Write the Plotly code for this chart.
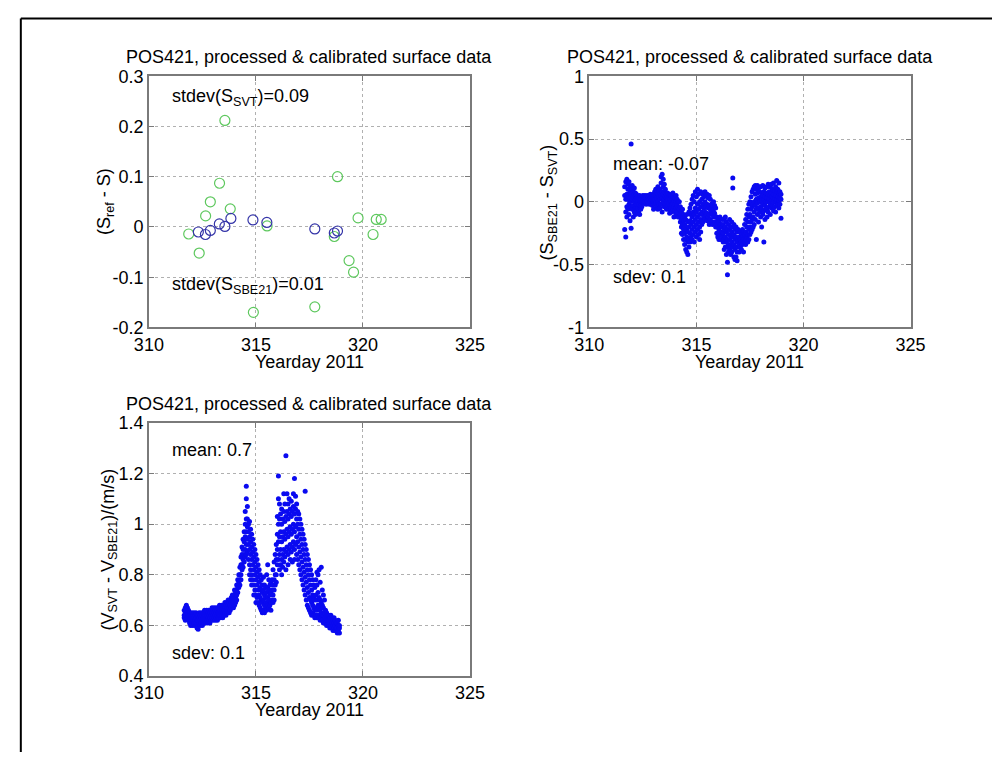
import plotly.graph_objects as go

# ---------------- data ----------------
TITLE = "POS421, processed &amp; calibrated surface data"
x_ticks = [310, 315, 320, 325]

# Panel 1: S_ref - S at reference samples
svt_day = [313.55, 313.30, 312.87, 312.65, 313.80, 311.86, 312.35, 315.52, 314.88,
           317.75, 318.81, 318.66, 319.77, 319.35, 319.56, 320.47, 320.62, 320.85]
svt_val = [0.212, 0.087, 0.050, 0.022, 0.036, -0.014, -0.052, 0.002, -0.170,
           -0.159, 0.100, -0.019, 0.018, -0.067, -0.090, -0.015, 0.015, 0.015]
sbe_day = [312.31, 312.64, 312.87, 313.29, 313.55, 313.83, 314.86, 315.51, 317.75, 318.66, 318.81]
sbe_val = [-0.010, -0.015, -0.007, 0.006, 0.001, 0.017, 0.014, 0.009, -0.004, -0.012, -0.008]
p1_yticks = [-0.2, -0.1, 0, 0.1, 0.2, 0.3]
p1_ytext = ["-0.2", "-0.1", "0", "0.1", "0.2", "0.3"]

# Panel 2: S_SBE21 - S_SVT (day, values observed at that time)
s_diff_cols = [
    (311.65, [0.05, -0.22, 0.12]), (311.70, [-0.28, 0.02, 0.16, -0.08]),
    (311.75, [0.18, 0.06, -0.04, -0.12]), (311.80, [0.10, 0.02, -0.06, 0.14]),
    (311.85, [0.16, 0.04, -0.02, -0.10]), (311.90, [0.08, 0.12, 0.00, -0.15]),
    (311.95, [0.46, 0.06, -0.04, -0.21]), (312.00, [0.10, 0.02, -0.06, 0.13]),
    (312.05, [0.04, 0.08, -0.03, -0.12]), (312.10, [0.06, 0.00, -0.08, 0.11]),
    (312.15, [0.02, 0.07, -0.05, -0.10]), (312.20, [0.03, -0.02, -0.07, 0.06]),
    (312.25, [0.00, -0.05, -0.09, 0.04]), (312.30, [-0.02, 0.03, -0.08]),
    (312.35, [0.01, -0.04, -0.10, 0.05]), (312.40, [0.02, -0.03, -0.06]),
    (312.45, [0.04, 0.00, -0.04]), (312.50, [0.03, 0.01, 0.05]),
    (312.55, [0.02, 0.04, -0.01]), (312.60, [0.03, 0.00, 0.05]),
    (312.65, [0.01, 0.04, -0.02]), (312.70, [0.02, 0.05, 0.00]),
    (312.75, [0.03, -0.01, 0.04]), (312.80, [0.02, 0.05, -0.02]),
    (312.85, [0.00, 0.03, 0.06]), (312.90, [0.02, -0.02, 0.04]),
    (312.95, [0.01, 0.05, -0.03]), (313.00, [0.03, 0.00, 0.06, -0.06]),
    (313.05, [0.02, 0.08, -0.02]), (313.10, [0.05, -0.01, 0.10]),
    (313.15, [0.03, 0.07, -0.04]), (313.20, [0.06, 0.00, 0.12, -0.06]),
    (313.25, [0.04, 0.09, -0.02]), (313.30, [0.02, 0.10, -0.05, 0.06]),
    (313.35, [0.05, 0.15, -0.02, 0.20]), (313.40, [0.03, 0.08, 0.22, -0.08]),
    (313.45, [0.06, 0.12, 0.00, 0.18]), (313.50, [0.02, 0.08, -0.04, 0.14]),
    (313.55, [0.04, -0.02, 0.10]), (313.60, [0.00, 0.06, -0.06, 0.03]),
    (313.65, [0.02, -0.03, 0.07]), (313.70, [-0.01, 0.04, -0.06]),
    (313.75, [0.02, -0.04, 0.06, -0.09]), (313.80, [0.00, 0.05, -0.05]),
    (313.85, [0.03, -0.02, -0.08]), (313.90, [-0.01, 0.04, -0.06, 0.07]),
    (313.95, [0.01, -0.04, -0.12]), (314.00, [-0.02, 0.03, -0.07]),
    (314.05, [0.00, -0.05, -0.10, 0.05]), (314.10, [-0.03, 0.02, -0.08]),
    (314.15, [-0.05, 0.00, -0.12]), (314.20, [-0.06, -0.12, 0.00]),
    (314.25, [-0.10, -0.16, -0.04]), (314.30, [-0.14, -0.20, -0.08, -0.25]),
    (314.35, [-0.18, -0.12, -0.26, -0.06]), (314.40, [-0.22, -0.15, -0.30, -0.10]),
    (314.45, [-0.25, -0.18, -0.34, -0.12]), (314.50, [-0.20, -0.30, -0.38, -0.14]),
    (314.55, [-0.28, -0.22, -0.40, -0.10]), (314.60, [-0.24, -0.32, -0.42, -0.16]),
    (314.65, [-0.20, -0.30, -0.36, -0.08]), (314.70, [-0.15, -0.25, -0.32, -0.05]),
    (314.75, [-0.18, -0.10, -0.28, -0.02]), (314.80, [-0.12, -0.22, -0.30, 0.02]),
    (314.85, [-0.16, -0.08, -0.26, 0.05]), (314.90, [-0.10, -0.20, -0.32, 0.00]),
    (314.95, [-0.14, -0.05, -0.24, 0.08]), (315.00, [-0.08, -0.18, -0.28, 0.04]),
    (315.05, [-0.12, -0.02, -0.22, 0.10]), (315.10, [-0.06, -0.16, -0.26, 0.06]),
    (315.15, [-0.10, 0.00, -0.20, -0.30]), (315.20, [-0.04, -0.14, 0.08, -0.24]),
    (315.25, [-0.08, 0.02, -0.18]), (315.30, [-0.02, -0.10, 0.06, -0.16]),
    (315.35, [-0.05, 0.04, -0.12]), (315.40, [0.00, -0.08, 0.08, -0.14]),
    (315.45, [-0.04, 0.05, -0.10]), (315.50, [-0.02, -0.09, 0.06, -0.15]),
    (315.55, [-0.05, 0.03, -0.12]), (315.60, [-0.03, -0.10, 0.05, -0.18]),
    (315.65, [-0.06, 0.02, -0.14]), (315.70, [-0.08, -0.02, -0.16]),
    (315.75, [-0.10, -0.04, -0.18]), (315.80, [-0.06, -0.12, 0.00]),
    (315.85, [-0.09, -0.16, -0.03]), (315.90, [-0.12, -0.05, -0.20]),
    (315.95, [-0.18, -0.25, -0.12]), (316.00, [-0.20, -0.28, -0.14]),
    (316.05, [-0.22, -0.16, -0.30]), (316.10, [-0.18, -0.26, -0.12]),
    (316.15, [-0.24, -0.18, -0.30]), (316.20, [-0.20, -0.27, -0.14]),
    (316.25, [-0.25, -0.32, -0.18]), (316.30, [-0.22, -0.30, -0.38, -0.14]),
    (316.35, [-0.28, -0.20, -0.36, -0.12]), (316.40, [-0.24, -0.32, -0.42, -0.16]),
    (316.45, [-0.30, -0.22, -0.48, -0.58, -0.36]), (316.50, [-0.26, -0.34, -0.18, -0.40]),
    (316.55, [-0.30, -0.22, -0.38, -0.14]), (316.60, [-0.27, -0.35, -0.20, -0.42]),
    (316.65, [-0.32, -0.24, -0.40, -0.16]), (316.70, [-0.28, 0.19, 0.11, -0.36, -0.20]),
    (316.75, [-0.34, -0.26, -0.44, -0.18]), (316.80, [-0.30, -0.38, -0.22, -0.46]),
    (316.85, [-0.36, -0.28, -0.44, -0.20]), (316.90, [-0.32, -0.40, -0.24, -0.47]),
    (316.95, [-0.30, -0.36, -0.22]), (317.00, [-0.34, -0.28, -0.40]),
    (317.05, [-0.30, -0.36, -0.24]), (317.10, [-0.32, -0.26, -0.38]),
    (317.15, [-0.28, -0.34, -0.22]), (317.20, [-0.30, -0.24, -0.40]),
    (317.25, [-0.26, -0.32, -0.18]), (317.30, [-0.24, -0.30, -0.14, -0.34]),
    (317.35, [-0.20, -0.28, -0.10]), (317.40, [-0.16, -0.26, -0.06, -0.32]),
    (317.45, [-0.12, -0.22, -0.02, -0.30]), (317.50, [-0.10, -0.20, 0.00, -0.26]),
    (317.55, [-0.06, -0.16, 0.04, -0.24]), (317.60, [-0.04, -0.14, 0.08, -0.22]),
    (317.65, [-0.02, -0.12, 0.10, -0.20]), (317.70, [0.00, -0.08, 0.12, -0.18]),
    (317.75, [-0.03, 0.06, -0.14, 0.13]), (317.80, [0.02, -0.06, 0.10, -0.30]),
    (317.85, [-0.01, 0.07, -0.10, 0.13]), (317.90, [0.03, -0.05, 0.11, -0.16]),
    (317.95, [0.00, 0.08, -0.08]), (318.00, [0.04, -0.04, 0.12, -0.12]),
    (318.05, [0.01, 0.07, -0.06, -0.20]), (318.10, [0.05, -0.02, 0.13, -0.10]),
    (318.15, [0.02, 0.08, -0.07, -0.32]), (318.20, [0.04, -0.03, 0.11, -0.14]),
    (318.25, [0.00, 0.07, -0.06]), (318.30, [0.03, -0.05, 0.12, -0.12]),
    (318.35, [0.06, 0.00, 0.14, -0.08]), (318.40, [0.02, 0.08, -0.04]),
    (318.45, [0.05, -0.02, 0.12, -0.10]), (318.50, [0.01, 0.07, -0.05, 0.14]),
    (318.55, [0.04, -0.03, 0.10]), (318.60, [0.00, 0.06, -0.07, 0.15]),
    (318.65, [0.03, 0.09, -0.04]), (318.70, [0.05, 0.00, 0.12, -0.08]),
    (318.75, [0.02, 0.08, -0.03, 0.17]), (318.80, [0.04, -0.02, 0.10]),
    (318.85, [0.01, 0.07, -0.05, 0.15]), (318.90, [0.03, 0.08, -0.02]),
    (318.95, [0.02, -0.13, 0.06]),
]
p2_yticks = [-1, -0.5, 0, 0.5, 1]
p2_ytext = ["-1", "-0.5", "0", "0.5", "1"]

# Panel 3: V_SVT - V_SBE21 (m/s)
v_diff_cols = [
    (311.65, [0.64, 0.66, 0.63]), (311.70, [0.65, 0.67, 0.62]), (311.75, [0.66, 0.64, 0.68]),
    (311.80, [0.63, 0.65, 0.67]), (311.85, [0.62, 0.64, 0.66]), (311.90, [0.61, 0.63, 0.65]),
    (311.95, [0.62, 0.64, 0.60]), (312.00, [0.61, 0.63, 0.65]), (312.05, [0.62, 0.60, 0.64]),
    (312.10, [0.61, 0.63, 0.65]), (312.15, [0.62, 0.60, 0.64]), (312.20, [0.61, 0.63, 0.65]),
    (312.25, [0.59, 0.62, 0.64]), (312.30, [0.60, 0.62, 0.64, 0.585]), (312.35, [0.61, 0.63, 0.65]),
    (312.40, [0.60, 0.62, 0.64]), (312.45, [0.61, 0.63, 0.65]), (312.50, [0.62, 0.64, 0.60]),
    (312.55, [0.61, 0.63, 0.65]), (312.60, [0.62, 0.64, 0.66]), (312.65, [0.61, 0.63, 0.65]),
    (312.70, [0.62, 0.64, 0.66]), (312.75, [0.63, 0.61, 0.65]), (312.80, [0.62, 0.64, 0.66]),
    (312.85, [0.63, 0.65, 0.61]), (312.90, [0.62, 0.64, 0.66]), (312.95, [0.63, 0.65, 0.67]),
    (313.00, [0.62, 0.64, 0.66]), (313.05, [0.63, 0.65, 0.67]), (313.10, [0.64, 0.62, 0.66]),
    (313.15, [0.63, 0.65, 0.67]), (313.20, [0.64, 0.66, 0.62]), (313.25, [0.63, 0.65, 0.67]),
    (313.30, [0.64, 0.66, 0.68]), (313.35, [0.65, 0.63, 0.67]), (313.40, [0.64, 0.66, 0.68]),
    (313.45, [0.65, 0.67, 0.63]), (313.50, [0.66, 0.64, 0.68]), (313.55, [0.65, 0.67, 0.69]),
    (313.60, [0.66, 0.68, 0.64]), (313.65, [0.67, 0.65, 0.69]), (313.70, [0.66, 0.68, 0.70]),
    (313.75, [0.67, 0.69, 0.65]), (313.80, [0.68, 0.66, 0.70]), (313.85, [0.67, 0.69, 0.71]),
    (313.90, [0.68, 0.70, 0.72]), (313.95, [0.69, 0.71, 0.67]), (314.00, [0.70, 0.72, 0.68, 0.74]),
    (314.05, [0.71, 0.73, 0.69]), (314.10, [0.72, 0.74, 0.70, 0.76]), (314.15, [0.73, 0.75, 0.78]),
    (314.20, [0.75, 0.77, 0.80]), (314.25, [0.78, 0.80, 0.76, 0.83]), (314.30, [0.80, 0.84, 0.78, 0.87]),
    (314.35, [0.84, 0.88, 0.82, 0.91]), (314.40, [0.86, 0.90, 0.94, 0.83]),
    (314.45, [0.88, 0.93, 0.97, 0.85]), (314.50, [0.90, 0.95, 1.00, 0.87, 1.05]),
    (314.55, [0.92, 0.97, 1.02, 0.88, 1.15, 1.10]), (314.60, [0.89, 0.94, 0.99, 1.02, 1.07]),
    (314.65, [0.86, 0.92, 0.97, 1.00]), (314.70, [0.84, 0.90, 0.95, 1.01, 0.80]),
    (314.75, [0.82, 0.88, 0.93, 0.98, 0.78]), (314.80, [0.80, 0.86, 0.91, 0.96, 0.76]),
    (314.85, [0.78, 0.84, 0.89, 0.94]), (314.90, [0.76, 0.82, 0.87, 0.92, 0.72]),
    (314.95, [0.74, 0.80, 0.85, 0.90]), (315.00, [0.72, 0.78, 0.83, 0.88, 0.69]),
    (315.05, [0.71, 0.76, 0.81, 0.86]), (315.10, [0.69, 0.74, 0.79, 0.84]),
    (315.15, [0.68, 0.72, 0.77, 0.82]), (315.20, [0.67, 0.71, 0.75, 0.80]),
    (315.25, [0.66, 0.70, 0.74, 0.78]), (315.30, [0.65, 0.69, 0.73, 0.76]),
    (315.35, [0.66, 0.70, 0.74, 0.79]), (315.40, [0.65, 0.68, 0.72, 0.76]),
    (315.45, [0.67, 0.71, 0.75]), (315.50, [0.66, 0.69, 0.73, 0.80]),
    (315.55, [0.68, 0.71, 0.75, 0.84]), (315.60, [0.67, 0.70, 0.74, 0.78]),
    (315.65, [0.68, 0.72, 0.76]), (315.70, [0.69, 0.73, 0.77, 0.66]),
    (315.75, [0.70, 0.74, 0.78]), (315.80, [0.72, 0.76, 0.82, 0.69]),
    (315.85, [0.74, 0.78, 0.85, 0.70]), (315.90, [0.76, 0.80, 0.88]),
    (315.95, [0.80, 0.86, 0.92, 0.77]), (316.00, [0.84, 0.90, 0.96, 1.03]),
    (316.05, [0.86, 0.93, 1.00, 1.10, 1.19]), (316.10, [0.88, 0.95, 1.02, 1.08, 0.82]),
    (316.15, [0.90, 0.97, 1.04, 0.84]), (316.20, [0.86, 0.93, 1.00, 1.06, 0.80]),
    (316.25, [0.88, 0.95, 1.02, 0.83]), (316.30, [0.90, 0.97, 1.05, 1.12, 0.85]),
    (316.35, [0.87, 0.94, 1.01, 1.08]), (316.40, [0.89, 0.96, 1.03, 1.27, 0.82]),
    (316.45, [0.91, 0.98, 1.05, 1.12]), (316.50, [0.88, 0.95, 1.02, 1.08, 0.84]),
    (316.55, [0.90, 0.97, 1.04, 1.10]), (316.60, [0.92, 0.99, 1.06, 0.86]),
    (316.65, [0.89, 0.96, 1.03, 1.09]), (316.70, [0.91, 0.98, 1.05, 0.85]),
    (316.75, [0.93, 1.00, 1.07, 1.12]), (316.80, [0.90, 0.97, 1.04, 1.18, 0.86]),
    (316.85, [0.92, 0.99, 1.06, 1.11]), (316.90, [0.88, 0.95, 1.02, 1.08]),
    (316.95, [0.86, 0.93, 1.00, 1.05]), (317.00, [0.84, 0.91, 0.98, 1.04]),
    (317.05, [0.82, 0.89, 0.96, 1.02]), (317.10, [0.80, 0.87, 0.94, 1.00]),
    (317.15, [0.78, 0.85, 0.92, 0.98]), (317.20, [0.76, 0.83, 0.90, 0.96]),
    (317.25, [0.74, 0.81, 0.88, 0.94]), (317.30, [0.72, 0.79, 0.86, 1.13, 0.92]),
    (317.35, [0.70, 0.77, 0.84, 0.90]), (317.40, [0.68, 0.75, 0.82, 0.88]),
    (317.45, [0.67, 0.73, 0.80, 0.86]), (317.50, [0.66, 0.71, 0.78, 0.84]),
    (317.55, [0.65, 0.70, 0.76, 0.82]), (317.60, [0.64, 0.69, 0.74, 0.80]),
    (317.65, [0.65, 0.68, 0.72, 0.78]), (317.70, [0.64, 0.67, 0.71, 0.76]),
    (317.75, [0.63, 0.66, 0.70, 0.75]), (317.80, [0.64, 0.67, 0.72, 0.78]),
    (317.85, [0.63, 0.66, 0.70, 0.76, 0.81]), (317.90, [0.64, 0.68, 0.73, 0.80]),
    (317.95, [0.63, 0.67, 0.71, 0.82]), (318.00, [0.62, 0.66, 0.70, 0.77]),
    (318.05, [0.63, 0.65, 0.69, 0.83]), (318.10, [0.62, 0.64, 0.68, 0.74]),
    (318.15, [0.61, 0.64, 0.67, 0.72]), (318.20, [0.62, 0.65, 0.70]),
    (318.25, [0.61, 0.63, 0.66]), (318.30, [0.60, 0.63, 0.65]),
    (318.35, [0.61, 0.62, 0.64]), (318.40, [0.60, 0.62, 0.64]),
    (318.45, [0.59, 0.61, 0.63]), (318.50, [0.60, 0.62, 0.64]),
    (318.55, [0.59, 0.61, 0.63]), (318.60, [0.58, 0.60, 0.62]),
    (318.65, [0.59, 0.61, 0.63]), (318.70, [0.58, 0.60, 0.62]),
    (318.75, [0.58, 0.59, 0.61]), (318.80, [0.57, 0.59, 0.61]),
    (318.85, [0.58, 0.60, 0.62]), (318.90, [0.57, 0.59, 0.60]),
]
p3_yticks = [0.4, 0.6, 0.8, 1.0, 1.2, 1.4]
p3_ytext = ["0.4", "0.6", "0.8", "1", "1.2", "1.4"]


def flatten(cols):
    xs, ys = [], []
    for day, vals in cols:
        for v in vals:
            xs.append(day)
            ys.append(v)
    return xs, ys


s_x, s_y = flatten(s_diff_cols)
v_x, v_y = flatten(v_diff_cols)

# ---------------- figure ----------------
W, H = 1007, 762
FONT = "Liberation Sans, Arial, sans-serif"
FS = 18
AXCOL = "#7a7a7a"
GRIDCOL = "#b0b0b0"
GREEN = "#5ec85e"
NAVY = "#3535a8"
BLUE = "#0a0af0"


def px_x(p):
    return p / W


def px_y(p):
    return 1 - p / H


fig = go.Figure()

fig.add_trace(go.Scatter(x=svt_day, y=svt_val, mode="markers", xaxis="x", yaxis="y",
                         marker=dict(symbol="circle-open", size=10, color=GREEN, line=dict(width=1.2, color=GREEN)),
                         showlegend=False))
fig.add_trace(go.Scatter(x=sbe_day, y=sbe_val, mode="markers", xaxis="x", yaxis="y",
                         marker=dict(symbol="circle-open", size=10, color=NAVY, line=dict(width=1.2, color=NAVY)),
                         showlegend=False))
fig.add_trace(go.Scatter(x=s_x, y=s_y, mode="markers", xaxis="x2", yaxis="y2",
                         marker=dict(size=5, color=BLUE), showlegend=False))
fig.add_trace(go.Scatter(x=v_x, y=v_y, mode="markers", xaxis="x3", yaxis="y3",
                         marker=dict(size=5, color=BLUE), showlegend=False))

axis_common = dict(showline=True, linecolor=AXCOL, linewidth=1.5, mirror="ticks",
                   ticks="inside", ticklen=5, tickcolor=AXCOL, tickwidth=1,
                   showgrid=True, gridcolor=GRIDCOL, griddash="dot", gridwidth=1,
                   zeroline=False, tickfont=dict(family=FONT, size=FS, color="black"))

xdom1 = [px_x(138), px_x(469)]
xdom2 = [px_x(592), px_x(923)]
ydom1 = [px_y(326), px_y(68)]
ydom3 = [px_y(684), px_y(424)]

xt = [str(t) for t in x_ticks]
fig.update_layout(
    width=W, height=H, margin=dict(l=0, r=0, t=0, b=0), autosize=False,
    paper_bgcolor="white", plot_bgcolor="white",
    font=dict(family=FONT, size=FS, color="black"),
    xaxis=dict(domain=xdom1, anchor="y", range=[310, 325], tickvals=x_ticks, ticktext=xt, **axis_common),
    yaxis=dict(domain=ydom1, anchor="x", range=[-0.2, 0.3], tickvals=p1_yticks, ticktext=p1_ytext, **axis_common),
    xaxis2=dict(domain=xdom2, anchor="y2", range=[310, 325], tickvals=x_ticks, ticktext=xt, **axis_common),
    yaxis2=dict(domain=ydom1, anchor="x2", range=[-1, 1], tickvals=p2_yticks, ticktext=p2_ytext, **axis_common),
    xaxis3=dict(domain=xdom1, anchor="y3", range=[310, 325], tickvals=x_ticks, ticktext=xt, **axis_common),
    yaxis3=dict(domain=ydom3, anchor="x3", range=[0.4, 1.4], tickvals=p3_yticks, ticktext=p3_ytext, **axis_common),
)

ann = []


def paper_text(text, x, y, angle=0, xanchor="center"):
    ann.append(dict(text=text, x=px_x(x), y=px_y(y), xref="paper", yref="paper",
                    showarrow=False, textangle=angle, xanchor=xanchor, yanchor="middle",
                    font=dict(family=FONT, size=FS, color="black")))


def data_text(text, x, y, xr, yr):
    ann.append(dict(text=text, x=x, y=y, xref=xr, yref=yr, showarrow=False,
                    xanchor="left", yanchor="middle",
                    font=dict(family=FONT, size=FS, color="black")))


# titles
paper_text(TITLE, 303.5, 48)
paper_text(TITLE, 757.5, 48)
paper_text(TITLE, 303.5, 405)
# x labels
paper_text("Yearday 2011", 303.5, 361)
paper_text("Yearday 2011", 757.5, 361)
paper_text("Yearday 2011", 303.5, 719)
# y labels
paper_text("(S<sub>ref</sub> - S)", 94, 197, angle=-90)
paper_text("(S<sub>SBE21</sub> - S<sub>SVT</sub>)", 550, 198, angle=-90)
paper_text("(V<sub>SVT</sub> - V<sub>SBE21</sub>)/(m/s)", 97, 554, angle=-90)
# in-plot annotations
data_text("stdev(S<sub>SVT</sub>)=0.09", 311.0, 0.257, "x", "y")
data_text("stdev(S<sub>SBE21</sub>)=0.01", 311.0, -0.117, "x", "y")
data_text("mean: -0.07", 311.0, 0.30, "x2", "y2")
data_text("sdev: 0.1", 311.0, -0.595, "x2", "y2")
data_text("mean: 0.7", 311.0, 1.292, "x3", "y3")
data_text("sdev: 0.1", 311.0, 0.492, "x3", "y3")

fig.update_layout(annotations=ann)

# outer frame (top and left edges visible in the reference)
fig.add_shape(type="line", xref="paper", yref="paper", x0=px_x(6), x1=1, y0=px_y(8.7), y1=px_y(8.7),
              line=dict(color="black", width=2))
fig.add_shape(type="line", xref="paper", yref="paper", x0=px_x(6), x1=px_x(6), y0=0, y1=px_y(8.7),
              line=dict(color="black", width=2))

fig.write_html("out.html",
               post_script="document.body.style.margin='0';document.body.style.padding='0';"
                           "document.body.style.overflow='hidden';")
